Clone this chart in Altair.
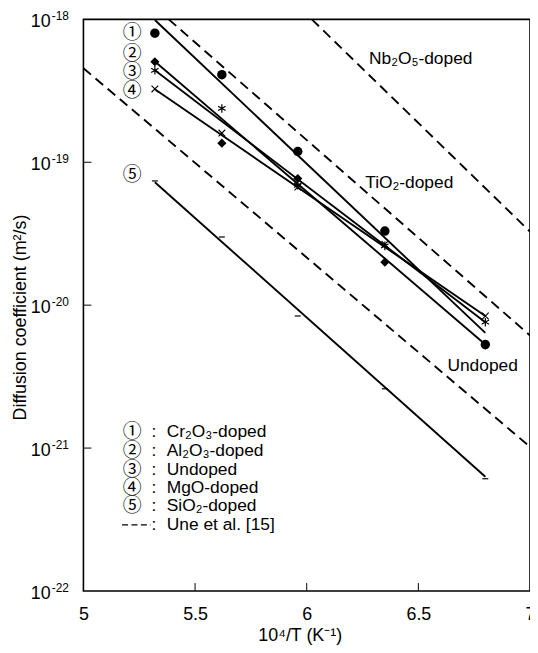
import altair as alt
import pandas as pd

# ---------------- data ----------------
x_pts = [5.32, 5.62, 5.96, 6.35, 6.80]
cr_pts = [8.0e-19, 4.1e-19, 1.19e-19, 3.3e-20, 5.3e-21]     # (1) Cr2O3-doped
al_pts = [5.05e-19, 1.36e-19, 7.7e-20, 2.0e-20, 5.25e-21]   # (2) Al2O3-doped
un_pts = [4.4e-19, 2.38e-19, 6.9e-20, 2.6e-20, 7.6e-21]     # (3) Undoped
mg_pts = [3.26e-19, 1.6e-19, 6.7e-20, 2.67e-20, 8.4e-21]    # (4) MgO-doped
si_pts = [7.4e-20, 3.0e-20, 8.4e-21, 2.6e-21, 6.1e-22]      # (5) SiO2-doped

x_fit = [5.32, 6.80]
cr_fit = [9.9e-19, 6.4e-21]
al_fit = [5.07e-19, 5.3e-21]
un_fit = [4.4e-19, 7.6e-21]
mg_fit = [3.24e-19, 8.4e-21]
si_fit = [7.25e-20, 6.3e-22]

# Une et al. [15] (dashed)
nb_x = [6.023, 7.0]
nb_y = [1.0e-18, 3.27e-20]
ti_x = [5.382, 7.0]
ti_y = [1.0e-18, 6.14e-21]
ud_x = [5.0, 7.0]
ud_y = [4.55e-19, 1.02e-21]

dl_text = ["Nb₂O₅-doped", "TiO₂-doped", "Undoped"]
dl_x = [6.279, 6.262, 6.63]
dl_y = [5.24e-19, 7.21e-20, 3.76e-21]

cn_text = ["①", "②", "③", "④", "⑤"]
cn_x = [5.218] * 5
cn_y = [8.05e-19, 5.75e-19, 4.25e-19, 3.14e-19, 8.18e-20]

leg_num = ["①", "②", "③", "④", "⑤"]
leg_text = ["Cr₂O₃-doped", "Al₂O₃-doped", "Undoped", "MgO-doped", "SiO₂-doped", "Une et al. [15]"]
leg_y = [1.30e-21, 9.46e-22, 6.98e-22, 5.24e-22, 3.93e-22, 2.90e-22]
leg_x_num = 5.218
leg_x_colon = 5.316
leg_x_text = 5.373
leg_dash_x = [5.173, 5.302]

x_ticks = [5.0, 5.5, 6.0, 6.5, 7.0]
x_inner_ticks = [5.5, 6.0, 6.5]
y_ticks = [1e-18, 1e-19, 1e-20, 1e-21, 1e-22]
y_exps = ["-18", "-19", "-20", "-21", "-22"]
y_inner_ticks = [1e-19, 1e-20, 1e-21]

W, H = 450, 576
FONT = "Liberation Sans, Arial, Helvetica, sans-serif"
CJK = "Noto Sans CJK JP"

xs = alt.Scale(domain=[5, 7], nice=False, zero=False)
ys = alt.Scale(type="log", domain=[1e-22, 1e-18], nice=False)
xaxis = alt.Axis(values=x_ticks, format="~g", title="10⁴/T (K⁻¹)", grid=False,
                 ticks=False, tickSize=0, domain=False, labelPadding=15,
                 labelFontSize=18, labelColor="black", labelFlush=False,
                 titleFontSize=18, titleFontWeight="normal", titleColor="black",
                 titleX=218, titleY=45, titleBaseline="middle", titleAlign="center")
yaxis = alt.Axis(labels=False, ticks=False, tickSize=0, domain=False, grid=False,
                 title="Diffusion coefficient (m²/s)", titleFontSize=18,
                 titleFontWeight="normal", titleColor="black", titleX=-63,
                 titleY=300, titleAngle=270, titleAlign="center", titleBaseline="middle")


def X(f="x"):
    return alt.X(f"{f}:Q", scale=xs, axis=xaxis)


def Y(f="y"):
    return alt.Y(f"{f}:Q", scale=ys, axis=yaxis)


layers = []

# dashed reference lines
dash_df = pd.concat([
    pd.DataFrame({"x": nb_x, "y": nb_y, "s": "Nb"}),
    pd.DataFrame({"x": ti_x, "y": ti_y, "s": "Ti"}),
    pd.DataFrame({"x": ud_x, "y": ud_y, "s": "Ud"}),
])
layers.append(alt.Chart(dash_df).mark_line(color="black", strokeWidth=1.9, strokeDash=[10, 6])
              .encode(x=X(), y=Y(), detail="s:N"))

# fitted solid lines
fit_df = pd.concat([
    pd.DataFrame({"x": x_fit, "y": cr_fit, "s": "cr"}),
    pd.DataFrame({"x": x_fit, "y": al_fit, "s": "al"}),
    pd.DataFrame({"x": x_fit, "y": un_fit, "s": "un"}),
    pd.DataFrame({"x": x_fit, "y": mg_fit, "s": "mg"}),
    pd.DataFrame({"x": x_fit, "y": si_fit, "s": "si"}),
])
layers.append(alt.Chart(fit_df).mark_line(color="black", strokeWidth=1.9)
              .encode(x=X(), y=Y(), detail="s:N"))

# markers
ASTER = "M0,-1L0,1M-0.866,-0.5L0.866,0.5M-0.866,0.5L0.866,-0.5"
CROSS = "M-1,-1L1,1M-1,1L1,-1"
specs = [
    (cr_pts, dict(shape="circle", filled=True, size=90, color="black")),
    (al_pts, dict(shape="diamond", filled=True, size=85, color="black")),
    (un_pts, dict(shape=ASTER, filled=False, size=75, color="black", strokeWidth=1.2)),
    (mg_pts, dict(shape=CROSS, filled=False, size=45, color="black", strokeWidth=1.1)),
    (si_pts, dict(shape="stroke", filled=False, size=36, color="black", strokeWidth=1.2)),
]
for vals, kw in specs:
    d = pd.DataFrame({"x": x_pts, "y": vals})
    layers.append(alt.Chart(d).mark_point(opacity=1, **kw).encode(x=X(), y=Y()))

# labels for dashed lines
dl_df = pd.DataFrame({"x": dl_x, "y": dl_y, "t": dl_text})
layers.append(alt.Chart(dl_df).mark_text(align="left", baseline="middle", fontSize=17.5,
                                         font=FONT, color="black")
              .encode(x=X(), y=Y(), text="t:N"))

# circled numbers near data
cn_df = pd.DataFrame({"x": cn_x, "y": cn_y, "t": cn_text})
layers.append(alt.Chart(cn_df).mark_text(align="center", baseline="middle", fontSize=19,
                                         font=CJK, color="black")
              .encode(x=X(), y=Y(), text="t:N"))

# legend
ln_df = pd.DataFrame({"x": [leg_x_num] * 5, "y": leg_y[:5], "t": leg_num})
layers.append(alt.Chart(ln_df).mark_text(align="center", baseline="middle", fontSize=19,
                                         font=CJK, color="black")
              .encode(x=X(), y=Y(), text="t:N"))
lc_df = pd.DataFrame({"x": [leg_x_colon] * 6, "y": leg_y, "t": [":"] * 6})
layers.append(alt.Chart(lc_df).mark_text(align="center", baseline="middle", fontSize=17.5,
                                         font=FONT, color="black")
              .encode(x=X(), y=Y(), text="t:N"))
lt_df = pd.DataFrame({"x": [leg_x_text] * 6, "y": leg_y, "t": leg_text})
layers.append(alt.Chart(lt_df).mark_text(align="left", baseline="middle", fontSize=17.5,
                                         font=FONT, color="black")
              .encode(x=X(), y=Y(), text="t:N"))
ld_df = pd.DataFrame({"x": [leg_dash_x[0]], "x2": [leg_dash_x[1]], "y": [leg_y[5]]})
layers.append(alt.Chart(ld_df).mark_rule(color="black", strokeWidth=1.3, strokeDash=[6, 3.5])
              .encode(x=X(), x2="x2:Q", y=Y()))

# inward ticks
xt_df = pd.DataFrame({"x": x_inner_ticks})
layers.append(alt.Chart(xt_df).mark_rule(color="black", strokeWidth=1)
              .encode(x=X(), y=alt.value(H - 8), y2=alt.value(H)))
yt_df = pd.DataFrame({"y": y_inner_ticks})
layers.append(alt.Chart(yt_df).mark_rule(color="black", strokeWidth=1)
              .encode(y=Y(), x=alt.value(0), x2=alt.value(8)))

# y tick labels 10^n
yl_df = pd.DataFrame({"y": y_ticks, "e": y_exps, "b": ["10"] * 5})
layers.append(alt.Chart(yl_df).mark_text(align="right", baseline="middle", fontSize=18,
                                         font=FONT, color="black", dy=3)
              .encode(y=Y(), x=alt.value(-33), text="b:N"))
layers.append(alt.Chart(yl_df).mark_text(align="left", baseline="middle", fontSize=12,
                                         font=FONT, color="black", dy=-3)
              .encode(y=Y(), x=alt.value(-32), text="e:N"))

chart = alt.layer(*layers).properties(
    width=W, height=H,
    padding={"left": 76, "top": 9, "right": 0, "bottom": 52},
    autosize=alt.AutoSizeParams(type="none"),
).configure(font=FONT).configure_view(stroke="black", strokeWidth=1.6).configure_axis(
    labelFont=FONT, titleFont=FONT)

chart.save("out.html", embed_options={"renderer": "svg", "actions": False})
